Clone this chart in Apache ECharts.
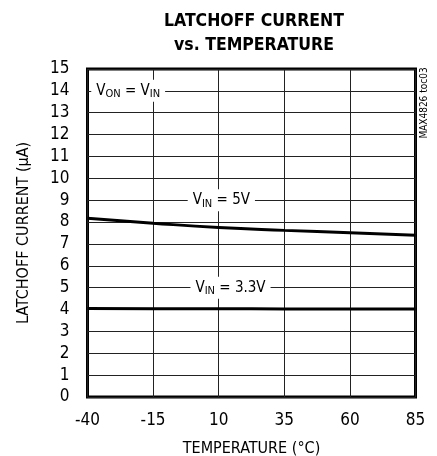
<!DOCTYPE html>
<html>
<head>
<meta charset="utf-8">
<script src="https://cdn.jsdelivr.net/npm/echarts@6/dist/echarts.min.js"></script>
<style>html,body{margin:0;padding:0;background:#fff}#c{width:437px;height:456px}</style>
</head>
<body>
<div id="c"></div>
<script>
var temps = [-40, -15, 10, 35, 60, 85];
var i5v = [8.18, 7.95, 7.75, 7.62, 7.51, 7.40];
var i33v = [4.05, 4.04, 4.04, 4.03, 4.03, 4.02];
var FONT = "'DejaVu Sans Condensed','DejaVu Sans',sans-serif";

function pairs(xs, ys){ return xs.map(function(x,i){ return [x, ys[i]]; }); }

var sub = {fontSize: 11, fontFamily: FONT, color:'#000', verticalAlign:'bottom', lineHeight: 12, padding:[5,0,0,0]};
var nrm = {fontSize: 15, fontFamily: FONT, color:'#000', lineHeight: 18};

function ann(text, x, y){
  return {
    coord: [x, y], symbol: 'rect', symbolSize: 0,
    label: {show: true, position: 'inside', formatter: text, backgroundColor: '#fff',
      padding: [2, 5, 2, 5], rich: {v: nrm, s: sub}}
  };
}

var chart = echarts.init(document.getElementById('c'));
chart.setOption({
  animation: false,
  backgroundColor: '#fff',
  title: {
    text: 'LATCHOFF CURRENT\nvs. TEMPERATURE', left: 249, top: 4, textAlign: 'center',
    textStyle: {fontFamily: FONT, fontWeight: 'bold', fontSize: 17.5, lineHeight: 24, color: '#000'}
  },
  grid: {left: 87.5, right: 21.5, top: 69, bottom: 59, show: true, borderColor: '#000', borderWidth: 3,
    backgroundColor: 'transparent', outerBoundsMode: 'none', containLabel: false},
  xAxis: {
    type: 'value', min: -40, max: 85, interval: 25,
    name: 'TEMPERATURE (°C)', nameLocation: 'middle', nameGap: 44, nameMoveOverlap: false,
    nameTextStyle: {fontFamily: FONT, fontSize: 16, color: '#000'},
    axisLine: {show: false}, axisTick: {show: false},
    axisLabel: {fontFamily: FONT, fontSize: 17, color: '#000', margin: 15},
    splitLine: {show: true, lineStyle: {color: '#222', width: 1}}
  },
  yAxis: {
    type: 'value', min: 0, max: 15, interval: 1,
    name: 'LATCHOFF CURRENT (µA)', nameLocation: 'middle', nameGap: 56, nameMoveOverlap: false,
    nameTextStyle: {fontFamily: FONT, fontSize: 16, color: '#000'},
    axisLine: {show: false}, axisTick: {show: false},
    axisLabel: {fontFamily: FONT, fontSize: 17, color: '#000', margin: 18},
    splitLine: {show: true, lineStyle: {color: '#222', width: 1}}
  },
  graphic: [{
    type: 'text', x: 424, y: 103, rotation: Math.PI/2,
    style: {text: 'MAX4826 toc03', fontFamily: FONT, fontSize: 10, fill: '#000', align: 'center', verticalAlign: 'middle'}
  }],
  series: [
    {type: 'line', data: pairs(temps, i5v), smooth: true, symbol: 'none',
     lineStyle: {color: '#000', width: 3}, z: 3,
     markPoint: {data: [ann('{v|V}{s|IN}{v| = 5V}', 11, 9), ann('{v|V}{s|ON}{v| = V}{s|IN}', -24.5, 14)]}},
    {type: 'line', data: pairs(temps, i33v), smooth: true, symbol: 'none',
     lineStyle: {color: '#000', width: 3}, z: 3,
     markPoint: {data: [ann('{v|V}{s|IN}{v| = 3.3V}', 14.5, 5)]}}
  ]
});
</script>
</body>
</html>
